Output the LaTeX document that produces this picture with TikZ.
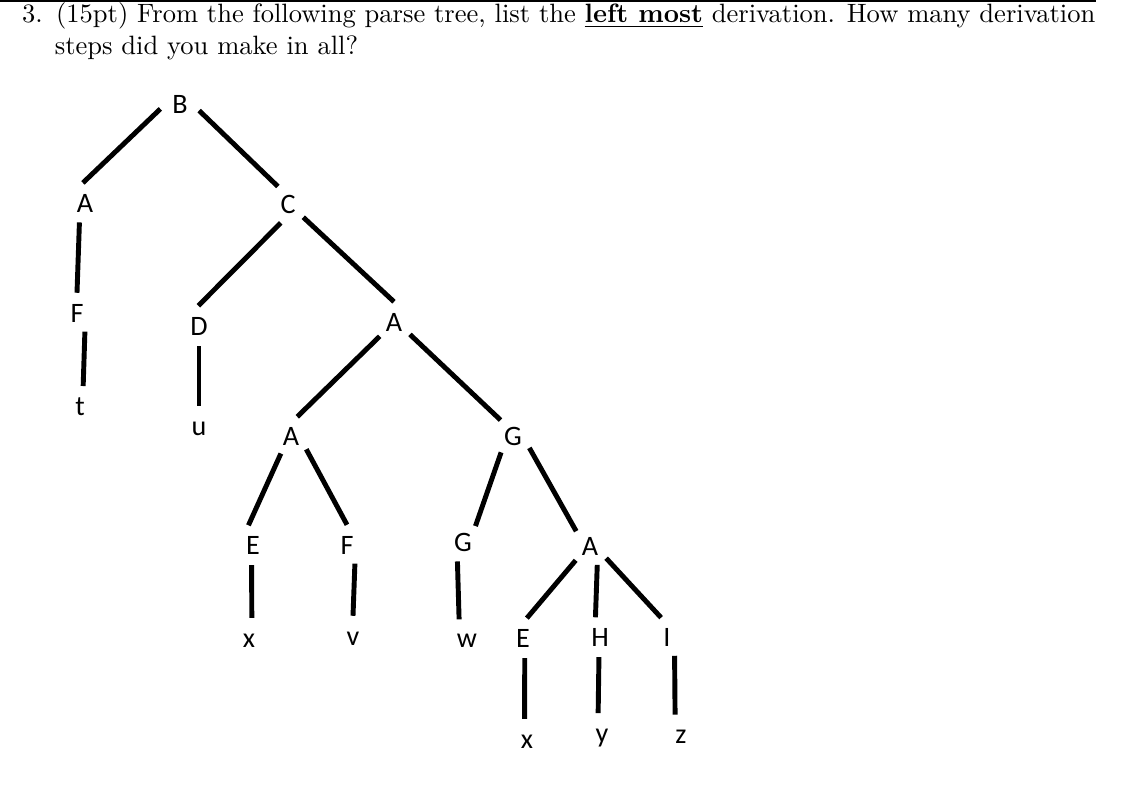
\documentclass[tikz,border=0pt]{standalone}
\usepackage{fontspec}
\usepackage{graphicx}
\usepackage{xcolor}
\usepackage{tikz}
\newfontfamily\treefont{Carlito}

\begin{document}
\begin{tikzpicture}[x=0.03cm, y=-0.03cm,
    lbl/.style={circle, minimum size=1.2cm, inner sep=0pt, text height=15.5pt, text depth=0pt,
        font=\treefont\fontsize{24}{24}\selectfont},
    branch/.style={line width=4.2pt}]
    \useasboundingbox[fill=white] (0, 0) rectangle (1132, 794);
    \draw[line width=1.2pt] (0, 1) -- (1096, 1);

    \node[anchor=base west, inner sep=0pt] at (22, 23) (title)
        {\resizebox{32.19cm}{!}{\begin{tabular}[t]{@{}l@{}}
        3.\enspace(15pt) From the following parse tree, list the \underline{\textbf{left most}} derivation. How many derivation\\
        \hspace*{12.3pt}steps did you make in all?
        \end{tabular}}};

    \node[lbl] at (180, 104) (root) {B};
    \node[lbl] at (85, 203) (L1N1) {A};
    \node[lbl] at (288, 204) (L1N2) {C};
    \node[lbl] at (77, 313) (L2N1) {F};
    \node[lbl] at (199, 326) (L2N2) {D};
    \node[lbl] at (394, 322) (L2N3) {A};
    \node[lbl] at (80, 406) (L3N1) {t};
    \node[lbl] at (199, 426) (L3N2) {u};
    \node[lbl] at (291, 436) (L3N3) {A};
    \node[lbl] at (513, 436) (L3N4) {G};
    \node[lbl] at (253, 545) (L4N1) {E};
    \node[lbl] at (347, 545) (L4N2) {F};
    \node[lbl] at (463, 542) (L4N3) {G};
    \node[lbl] at (590, 546) (L4N4) {A};
    \node[lbl] at (249, 638) (L5N1) {x};
    \node[lbl] at (353, 636) (L5N2) {v};
    \node[lbl] at (467, 638) (L5N3) {w};
    \node[lbl] at (523, 638) (L5N4) {E};
    \node[lbl] at (600, 637) (L5N5) {H};
    \node[lbl] at (667, 637) (L5N6) {I};
    \node[lbl] at (527, 739) (L6N1) {x};
    \node[lbl] at (602, 733) (L6N2) {y};
    \node[lbl] at (681, 734) (L6N3) {z};

    \draw[branch] (root.194) -- (L1N1.96);
    \draw[branch] (root.341) -- (L1N2.120);
    \draw[branch] (L1N1.254) -- (L2N1.90);
    \draw[branch] (L2N1.293) -- (L3N1.81);
    \draw[branch] (L1N2.249) -- (L2N2.92);
    \draw[branch] (L1N2.319) -- (L2N3.90);
    \draw[branch] (L2N2.270) -- (L3N2.90);
    \draw[branch] (L2N3.225) -- (L3N3.72);
    \draw[branch] (L2N3.322) -- (L3N4.128);
    \draw[branch] (L3N3.240) -- (L4N1.103);
    \draw[branch] (L3N3.319) -- (L4N2.90);
    \draw[branch] (L3N4.234) -- (L4N3.52);
    \draw[branch] (L3N4.324) -- (L4N4.133);
    \draw[branch] (L4N1.266) -- (L5N1.82);
    \draw[branch] (L4N2.293) -- (L5N2.90);
    \draw[branch] (L4N3.254) -- (L5N3.113);
    \draw[branch] (L4N4.225) -- (L5N4.79);
    \draw[branch] (L4N4.291) -- (L5N5.103);
    \draw[branch] (L4N4.323) -- (L5N6.107);
    \draw[branch] (L5N4.275) -- (L6N1.97);
    \draw[branch] (L5N5.267) -- (L6N2.101);
    \draw[branch] (L5N6.292) -- (L6N3.107);
\end{tikzpicture}
\end{document}
